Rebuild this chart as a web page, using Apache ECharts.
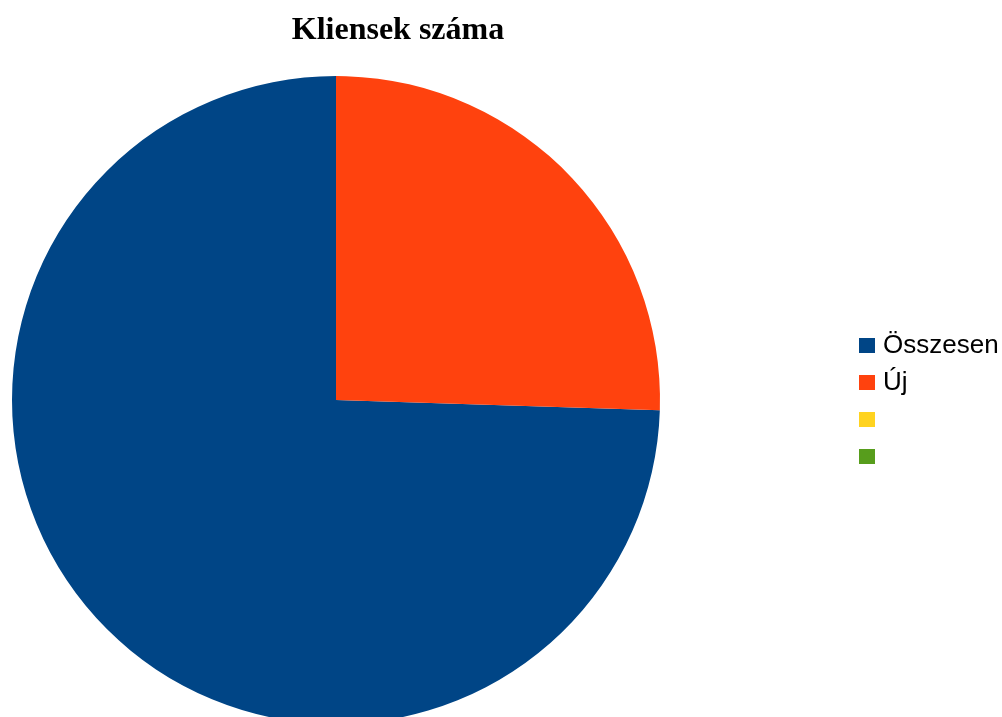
<!DOCTYPE html>
<html>
<head>
<meta charset="utf-8">
<script src="https://cdn.jsdelivr.net/npm/echarts@6/dist/echarts.min.js"></script>
<style>
html,body{margin:0;padding:0;background:#fff;}
#c{width:1002px;height:717px;}
</style>
</head>
<body>
<div id="c"></div>
<script>
var categories = ['Összesen', 'Új', ' ', '  '];
var values = [745, 255, 0, 0];
var colors = ['#004586', '#ff420e', '#ffd320', '#579d1c'];

var chart = echarts.init(document.getElementById('c'), null, {renderer: 'canvas'});
chart.setOption({
  animation: false,
  backgroundColor: '#ffffff',
  color: colors,
  title: {
    text: 'Kliensek száma',
    left: 393,
    top: 10,
    textAlign: 'center',
    textStyle: {fontFamily: 'Liberation Serif', fontWeight: 'bold', fontSize: 32, color: '#000'}
  },
  legend: {
    orient: 'vertical',
    left: 859,
    top: 327,
    padding: 0,
    itemWidth: 16,
    itemHeight: 15,
    itemGap: 0,
    icon: 'rect',
    selectedMode: false,
    data: categories,
    textStyle: {fontFamily: 'Liberation Sans', fontSize: 26, color: '#000', lineHeight: 37, padding: [0,0,0,3]}
  },
  series: [{
    type: 'pie',
    center: [336, 400],
    radius: [0, 324],
    startAngle: 90,
    clockwise: false,
    label: {show: false},
    labelLine: {show: false},
    emphasis: {disabled: true},
    itemStyle: {borderWidth: 0},
    stillShowZeroSum: true,
    data: categories.map(function (n, i) { return {name: n, value: values[i]}; })
  }]
});
</script>
</body>
</html>
